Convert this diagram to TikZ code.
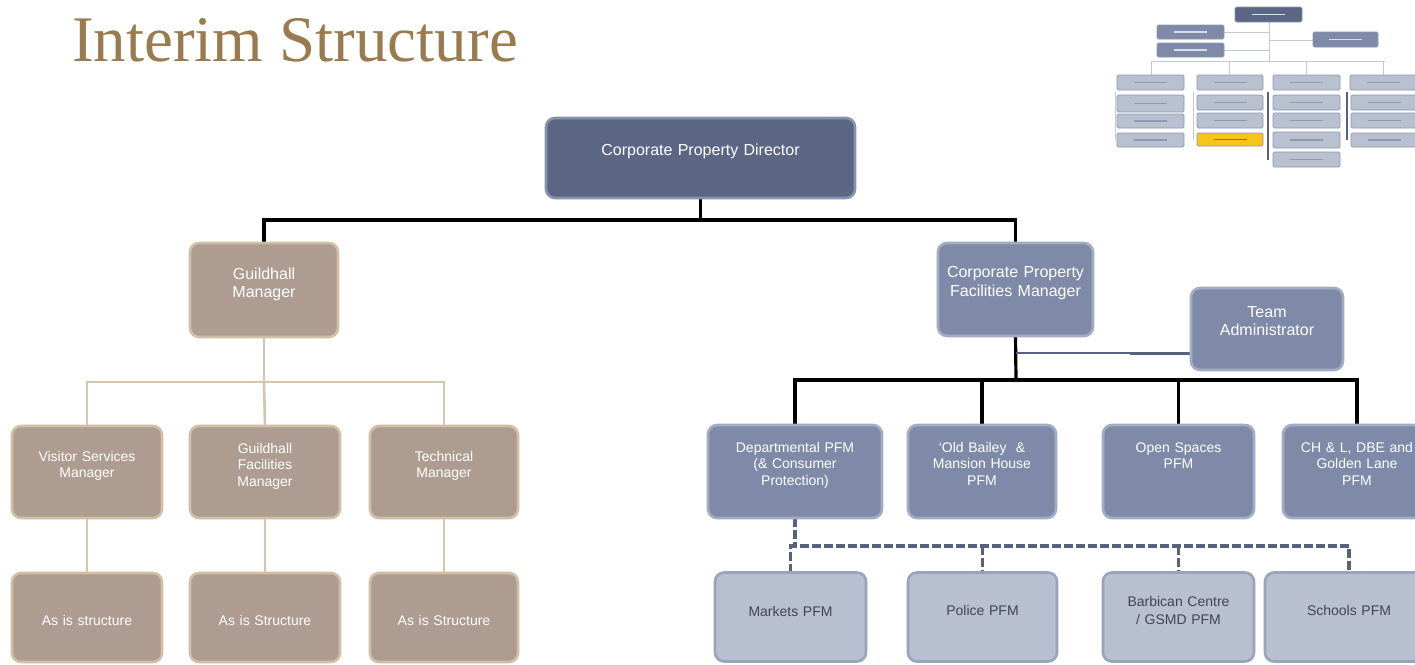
\documentclass[tikz,border=0pt]{standalone}
\usepackage{fontspec}
\setmainfont{Liberation Sans}
\newfontfamily\titlefont{Liberation Serif}
\usetikzlibrary{backgrounds}
\definecolor{cDark}{HTML}{5A6683}
\definecolor{cDarkB}{HTML}{8792AD}
\definecolor{cMid}{HTML}{7F8AA8}
\definecolor{cMidB}{HTML}{A3ACC2}
\definecolor{cLight}{HTML}{B8BFD0}
\definecolor{cLightB}{HTML}{9AA3B9}
\definecolor{cText}{HTML}{44444E}
\definecolor{cTaupe}{HTML}{AE9C91}
\definecolor{cTaupeB}{HTML}{CFC0A5}
\definecolor{cTaupeL}{HTML}{D4C6AC}
\definecolor{cDash}{HTML}{56617F}
\definecolor{cTitle}{HTML}{9A7B4F}
\definecolor{cYel}{HTML}{F5C518}
\definecolor{cThL}{HTML}{B9C0D0}
\definecolor{cThB}{HTML}{8F98AE}
\definecolor{cThLine}{HTML}{C3C7D2}
\newcommand\thbox[6]{%
  \draw[fill=#5, draw=cThB, line width=0.8pt, rounded corners=1.5pt] (#1,#2) rectangle (#3,#4);
  \draw[#6, line width=1.6pt] ({#1+0.25*(#3-#1)},{(#2+#4)/2}) -- ({#3-0.25*(#3-#1)},{(#2+#4)/2});}
\begin{document}
\begin{tikzpicture}[x=1pt,y=-1pt,
  every node/.style={inner sep=0pt, outer sep=0pt},
  box/.style={draw, line width=2.6pt, rounded corners=9pt, align=center,
    font=\fontsize{14}{16.5}\selectfont, text=white},
  darkbox/.style={box, fill=cDark, draw=cDarkB},
  midbox/.style={box, fill=cMid, draw=cMidB},
  lightbox/.style={box, fill=cLight, draw=cLightB, text=cText},
  taupebox/.style={box, fill=cTaupe, draw=cTaupeB},
  geo/.style n args={3}{text width=#1pt, minimum width=#1pt, text height=#2pt, text depth=#3pt},
  big/.style={font=\fontsize{16}{18.5}\selectfont},
  blk/.style={draw=black, line width=3.2pt},
  tline/.style={draw=cTaupeL, line width=2.6pt},
  dline/.style={draw=cDash, line width=3.2pt, dash pattern=on 9pt off 3pt},
]
\useasboundingbox (0,0) rectangle (1415,664);
\clip (0,0) rectangle (1415,664);

% title
\node[anchor=base west, text=cTitle, font=\titlefont\fontsize{65}{70}\selectfont] (title) at (72,61) {Interim Structure};

% top
\node[darkbox, big, geo={309}{37}{43}] (cpd) at (700.5,158) {Corporate Property Director};

% left branch
\node[taupebox, big, geo={148}{36}{58}] (gm) at (264,290) {Guildhall\\Manager};
\node[taupebox, geo={150}{35}{57}] (vsm) at (87,472) {Visitor Services\\Manager};
\node[taupebox, geo={150}{27}{65}] (gfm) at (265,472) {Guildhall\\Facilities\\Manager};
\node[taupebox, geo={148}{35}{57}] (tm) at (444,472) {Technical\\Manager};
\node[taupebox, geo={150}{52}{37}] (as1) at (87,617.5) {As is structure};
\node[taupebox, geo={150}{52}{37}] (as2) at (265,617.5) {As is Structure};
\node[taupebox, geo={148}{52}{37}] (as3) at (444,617.5) {As is Structure};

% right branch
\node[midbox, big, geo={155}{34.5}{58.5}] (cpfm) at (1015.5,289.5) {Corporate Property\\Facilities Manager};
\node[midbox, big, geo={152}{29}{53}, font=\fontsize{16}{18}\selectfont] (ta) at (1267,329) {Team\\Administrator};
\node[midbox, geo={174}{27}{66}] (dp) at (795,471.5) {Departmental PFM\\(\& Consumer\\Protection)};
\node[midbox, geo={148}{27}{66}] (ob) at (982,471.5) {‘Old Bailey~ \&\\Mansion House\\PFM};
\node[midbox, geo={151}{27}{66}] (os) at (1178.5,471.5) {Open Spaces\\PFM};
\node[midbox, geo={148}{27}{66}] (ch) at (1357,471.5) {CH \& L, DBE and\\Golden Lane\\PFM};
\node[lightbox, geo={151}{44}{45}] (mk) at (790.5,617) {Markets PFM};
\node[lightbox, geo={149}{43}{46}] (po) at (982.5,617) {Police PFM};
\node[lightbox, geo={151}{34}{55}, font=\fontsize{14}{18}\selectfont] (bc) at (1178.5,617) {Barbican Centre\\/ GSMD PFM};
\node[lightbox, geo={168}{43}{46}] (sc) at (1349,617) {Schools PFM};

\coordinate (b1) at (700,220);
\coordinate (b2) at (264,382);
\coordinate (b3) at (1016,380);
\coordinate (b4) at (795,546);
\coordinate (tac) at (1130,353);

\begin{pgfonlayer}{background}
  \fill[white] (0,0) rectangle (1415,664);
  % black tree
  \draw[blk] (cpd.south) -- (cpd.south |- b1);
  \draw[blk] (gm.north) -- (gm.north |- b1) -- (cpfm.north |- b1) -- (cpfm.north);
  \draw[blk] (cpfm.south) -- (b3);
  \draw[blk] (dp.north) -- (dp.north |- b3) -- (ch.north |- b3) -- (ch.north);
  \draw[blk] (ob.north |- b3) -- (ob.north);
  \draw[blk] (os.north |- b3) -- (os.north);
  % team administrator
  \draw[draw=cDash, line width=1.6pt] (cpfm.south |- tac) -- (tac);
  \draw[draw=cDash, line width=3pt] (tac) -- (ta.west |- tac);
  % taupe tree
  \draw[tline] (gm.south) -- (b2);
  \draw[tline] (vsm.north) -- (vsm.north |- b2) -- (tm.north |- b2) -- (tm.north);
  \draw[tline] (b2) -- (gfm.north);
  \draw[tline] (vsm.south) -- (as1.north);
  \draw[tline] (gfm.south) -- (as2.north);
  \draw[tline] (tm.south) -- (as3.north);
  % dashed
  \draw[dline] (dp.south) -- (b4);
  \draw[dline] (mk.north) -- (mk.north |- b4) -- (sc.north |- b4) -- (sc.north);
  \draw[dline] (po.north |- b4) -- (po.north);
  \draw[dline] (bc.north |- b4) -- (bc.north);
\end{pgfonlayer}

% thumbnail (reduced org chart)
\begin{scope}
  \draw[cThLine, line width=1pt] (1269,22) -- (1269,61);
  \draw[cThLine, line width=1pt] (1224,32) -- (1269,32);
  \draw[cThLine, line width=1pt] (1224,50) -- (1269,50);
  \draw[cThLine, line width=1pt] (1269,40) -- (1313,40);
  \draw[cThLine, line width=1pt] (1151,61) -- (1385,61);
  \foreach \x in {1151,1229,1306,1383} \draw[cThLine, line width=1pt] (\x,61) -- (\x,75);
  \draw[cThLine, line width=1pt] (1115,92) -- (1115,140);
  \draw[cThLine, line width=1pt] (1193,92) -- (1193,140);
  \draw[cDash, line width=1.4pt] (1268,92) -- (1268,160);
  \draw[cDash, line width=1.2pt] (1347,92) -- (1347,140);
  \thbox{1235}{7}{1302}{22}{cDark}{white!80!cDark}
  \thbox{1157}{25}{1224}{39}{cMid}{white!70!cMid}
  \thbox{1157}{43}{1224}{57}{cMid}{white!70!cMid}
  \thbox{1313}{32}{1378}{47}{cMid}{white!70!cMid}
  \thbox{1117}{75}{1184}{90}{cThL}{cThB}
  \thbox{1197}{75}{1263}{90}{cThL}{cThB}
  \thbox{1273}{75}{1340}{90}{cThL}{cThB}
  \thbox{1350}{75}{1417}{90}{cThL}{cThB}
  \thbox{1117}{95}{1184}{112}{cThL}{cThB}
  \thbox{1117}{114}{1184}{128}{cThL}{cThB}
  \thbox{1117}{133}{1184}{147}{cThL}{cThB}
  \thbox{1197}{95}{1263}{110}{cThL}{cThB}
  \thbox{1197}{113}{1263}{128}{cThL}{cThB}
  \thbox{1197}{133}{1263}{146}{cYel}{cYel!60!black}
  \thbox{1273}{95}{1340}{110}{cThL}{cThB}
  \thbox{1273}{113}{1340}{128}{cThL}{cThB}
  \thbox{1273}{132}{1340}{148}{cThL}{cThB}
  \thbox{1273}{152}{1340}{167}{cThL}{cThB}
  \thbox{1351}{95}{1417}{110}{cThL}{cThB}
  \thbox{1351}{113}{1417}{128}{cThL}{cThB}
  \thbox{1351}{133}{1417}{147}{cThL}{cThB}
\end{scope}
\end{tikzpicture}
\end{document}
